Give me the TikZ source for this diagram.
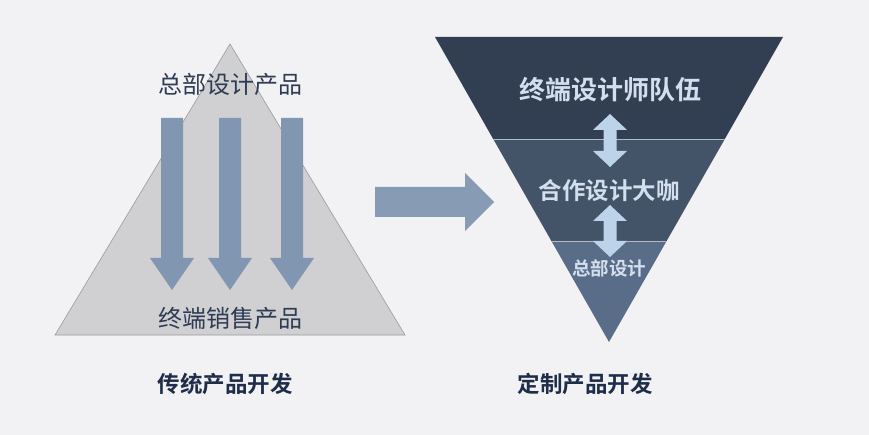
\documentclass[tikz,border=0pt]{standalone}
\usepackage{fontspec}
\newfontfamily\cjk{Noto Sans CJK SC}[BoldFont={Noto Sans CJK SC Bold}]
\definecolor{bg}{HTML}{F2F2F4}
\definecolor{trigray}{HTML}{D0D0D3}
\definecolor{triedge}{HTML}{9A9A9E}
\definecolor{arrowblue}{HTML}{8196B0}
\definecolor{navytext}{HTML}{2E3B52}
\definecolor{labeltext}{HTML}{1F2D4A}
\definecolor{bandA}{HTML}{323F52}
\definecolor{bandB}{HTML}{435469}
\definecolor{bandC}{HTML}{5A6D88}
\definecolor{lighttext}{HTML}{D3DFEE}
\definecolor{dblarrow}{HTML}{BDD3EA}
\begin{document}
\begin{tikzpicture}[x=1pt,y=-1pt,
  lefttext/.style={font=\cjk\fontsize{24}{27}\selectfont, text=navytext, inner sep=0pt},
  bandtext/.style={font=\cjk\bfseries, text=lighttext, inner sep=0pt},
  caption/.style={font=\cjk\bfseries\fontsize{22.5}{25}\selectfont, text=labeltext, inner sep=0pt}]
\fill[bg] (0,0) rectangle (869,435);
\useasboundingbox (0,0) rectangle (869,435);
% left triangle
\filldraw[fill=trigray, draw=triedge, line width=0.6pt] (55,335) -- (405,335) -- (230,44) -- cycle;
% three down arrows
\foreach \c in {172,230,292}{
  \fill[arrowblue] (\c-11,118) -- (\c+11,118) -- (\c+11,258) -- (\c+22,258) -- (\c,290) -- (\c-22,258) -- (\c-11,258) -- cycle;
}
\node[lefttext] (top) at (230,84) {总部设计产品};
\node[lefttext] (bottom) at (230,318) {终端销售产品};
% big right arrow
\fill[arrowblue!95!white] (375,187) -- (465,187) -- (465,173) -- (494,202) -- (465,231) -- (465,217) -- (375,217) -- cycle;
% right inverted triangle bands
\begin{scope}
  \clip (435,37) -- (783,37) -- (609,342) -- cycle;
  \fill[bandA] (430,30) rectangle (790,139);
  \fill[bandB] (430,139) rectangle (790,241);
  \fill[bandC] (430,241) rectangle (790,350);
  \draw[white!60!bandB, line width=0.6pt] (430,139) -- (790,139);
  \draw[white!60!bandB, line width=0.6pt] (430,241) -- (790,241);
\end{scope}
% double arrows
\foreach \a/\b in {114/167,205/257}{
  \fill[dblarrow] (610,\a) -- (627,\a+16) -- (616.5,\a+16) -- (616.5,\b-16) -- (627,\b-16) -- (610,\b) -- (593,\b-16) -- (603.5,\b-16) -- (603.5,\a+16) -- (593,\a+16) -- cycle;
}
\node[bandtext, font=\cjk\bfseries\fontsize{26}{29}\selectfont] (teamA) at (610,90) {终端设计师队伍};
\node[bandtext, font=\cjk\bfseries\fontsize{23.5}{26}\selectfont] (teamB) at (609,191) {合作设计大咖};
\node[bandtext, font=\cjk\bfseries\fontsize{18.5}{21}\selectfont] (teamC) at (609,268) {总部设计};
% captions
\node[caption] (capL) at (225,384) {传统产品开发};
\node[caption] (capR) at (585,384) {定制产品开发};
\end{tikzpicture}
\end{document}
